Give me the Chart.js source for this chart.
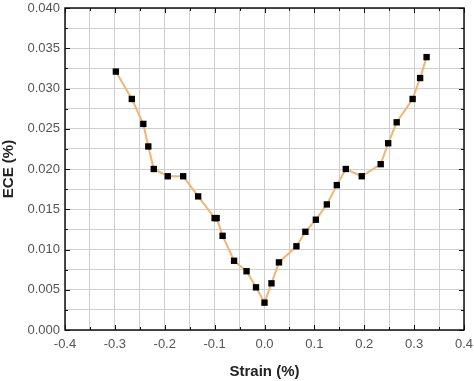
<!DOCTYPE html>
<html>
<head>
<meta charset="utf-8">
<script src="https://cdn.jsdelivr.net/npm/chart.js@4/dist/chart.umd.min.js"></script>
<style>
  html, body { margin: 0; padding: 0; background: #fff; }
  #wrap { width: 474px; height: 381px; }
</style>
</head>
<body>
<div id="wrap"><canvas id="chart" width="474" height="381"></canvas></div>
<script>
// strain (%) vs ECE (%)
const strain = [-0.298, -0.266, -0.243, -0.233, -0.222, -0.194, -0.163, -0.133, -0.100, -0.096,
  -0.084, -0.061, -0.036, -0.017, 0.000, 0.014, 0.029, 0.064, 0.082, 0.103, 0.125,
  0.145, 0.163, 0.195, 0.233, 0.248, 0.265, 0.297, 0.312, 0.325];
const ece = [0.0321, 0.0287, 0.0256, 0.0228, 0.0200, 0.0191, 0.0191, 0.0166, 0.0139, 0.0139,
  0.0117, 0.0086, 0.0073, 0.0053, 0.0034, 0.0058, 0.0084, 0.0104, 0.0122, 0.0137, 0.0156,
  0.0180, 0.0200, 0.0191, 0.0206, 0.0232, 0.0258, 0.0287, 0.0313, 0.0339];

const xMin = -0.4, xMax = 0.4, xMajor = 0.1, xMinor = 0.05;
const yMin = 0, yMax = 0.04, yMajor = 0.005, yMinor = 0.0025;

const points = strain.map((x, i) => ({ x: x, y: ece[i] }));

function isMajor(v, step) {
  return Math.abs(v / step - Math.round(v / step)) < 1e-6;
}

// frame + inward tick marks on all four sides
const framePlugin = {
  id: 'frame',
  afterDatasetsDraw(chart) {
    const { ctx, chartArea: a, scales } = chart;
    ctx.save();
    ctx.strokeStyle = '#111';
    ctx.lineWidth = 1;
    for (let v = xMin; v <= xMax + 1e-9; v += xMinor) {
      const px = Math.round(scales.x.getPixelForValue(v)) + 0.5;
      const len = isMajor(v, xMajor) ? 5 : 3;
      ctx.beginPath();
      ctx.moveTo(px, a.bottom); ctx.lineTo(px, a.bottom - len);
      ctx.moveTo(px, a.top); ctx.lineTo(px, a.top + len);
      ctx.stroke();
    }
    for (let v = yMin; v <= yMax + 1e-9; v += yMinor) {
      const py = Math.round(scales.y.getPixelForValue(v)) + 0.5;
      const len = isMajor(v, yMajor) ? 5 : 3;
      ctx.beginPath();
      ctx.moveTo(a.left, py); ctx.lineTo(a.left + len, py);
      ctx.moveTo(a.right, py); ctx.lineTo(a.right - len, py);
      ctx.stroke();
    }
    ctx.lineWidth = 1.5;
    ctx.strokeRect(a.left, a.top, a.right - a.left, a.bottom - a.top);
    ctx.restore();
  }
};

const tickFont = { family: 'Liberation Sans, Arial, sans-serif', size: 13 };
const titleFont = { family: 'Liberation Sans, Arial, sans-serif', size: 15, weight: 'bold' };

new Chart(document.getElementById('chart'), {
  type: 'scatter',
  data: {
    datasets: [{
      data: points,
      showLine: true,
      borderColor: '#F2B575',
      borderWidth: 2,
      pointStyle: 'rect',
      pointRadius: 4.5,
      pointHoverRadius: 4.5,
      pointBackgroundColor: '#000',
      pointBorderColor: '#000',
      pointBorderWidth: 0
    }]
  },
  options: {
    responsive: false,
    animation: false,
    layout: { padding: { top: 8, right: 10, left: 0, bottom: 0 } },
    plugins: { legend: { display: false }, tooltip: { enabled: false } },
    scales: {
      x: {
        type: 'linear',
        min: xMin, max: xMax,
        afterFit(s) { s.height = 51; s.paddingLeft = 0; s.paddingRight = 0; },
        border: { display: false },
        grid: { color: '#cfcfcf', lineWidth: 1, drawTicks: false },
        ticks: {
          stepSize: xMinor,
          autoSkip: false,
          maxRotation: 0,
          minRotation: 0,
          padding: 7,
          color: '#555',
          font: tickFont,
          callback: v => isMajor(v, xMajor) ? (Math.round(v * 10) / 10).toFixed(1) : ''
        },
        title: {
          display: true,
          text: 'Strain (%)',
          color: '#222',
          font: titleFont,
          padding: { top: 4, bottom: 0 }
        }
      },
      y: {
        type: 'linear',
        min: yMin, max: yMax,
        afterFit(s) { s.width = 65; s.paddingTop = 0; s.paddingBottom = 0; },
        border: { display: false },
        grid: { color: '#cfcfcf', lineWidth: 1, drawTicks: false },
        ticks: {
          stepSize: yMinor,
          autoSkip: false,
          padding: 5,
          color: '#555',
          font: tickFont,
          callback: v => isMajor(v, yMajor) ? (Math.round(v * 1000) / 1000).toFixed(3) : ''
        },
        title: {
          display: true,
          text: 'ECE (%)',
          color: '#222',
          font: titleFont,
          padding: { top: 0, bottom: 0 }
        }
      }
    }
  },
  plugins: [framePlugin]
});
</script>
</body>
</html>
